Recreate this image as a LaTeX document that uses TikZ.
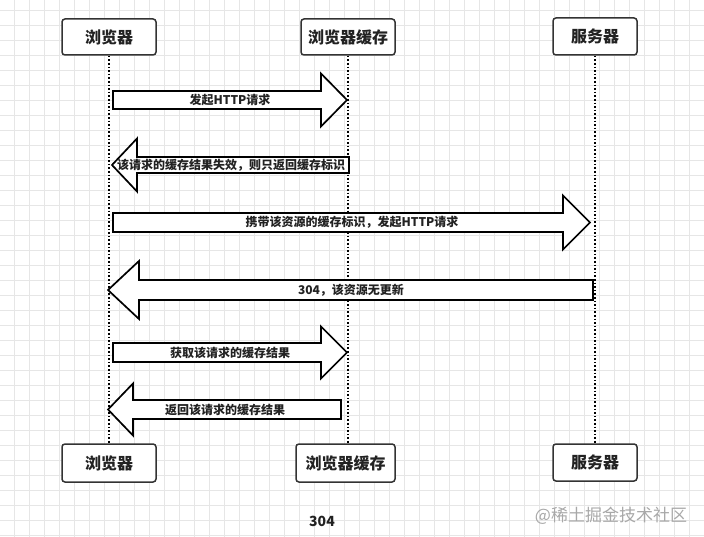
\documentclass[tikz,border=0pt]{standalone}
\usepackage{fontspec}
\setmainfont{Noto Sans CJK SC}
\definecolor{gridc}{HTML}{E6E6E6}
\definecolor{boxline}{HTML}{333333}
\definecolor{txt}{HTML}{222222}
\definecolor{wm}{HTML}{A8A8A8}
\tikzset{
  actor/.style={draw=boxline, line width=1.5pt, rounded corners=3pt, fill=white, font=\bfseries\fontsize{16}{18}\selectfont, text=txt, inner sep=0pt},
  lifeline/.style={dotted, line width=1.6pt, black},
  blockarrow/.style={draw=black, line width=1.7pt, fill=white, line join=miter},
  msg/.style={font=\bfseries\fontsize{12}{14}\selectfont, text=txt, inner sep=0pt},
}
% right-pointing block arrow: x-left, x-tip, y-centre, head length, body half, head half
\newcommand\blockR[6]{%
  \filldraw[blockarrow] (#1,#3-#5) -- (#2-#4,#3-#5) -- (#2-#4,#3-#6) -- (#2,#3) -- (#2-#4,#3+#6) -- (#2-#4,#3+#5) -- (#1,#3+#5) -- cycle;}
% left-pointing block arrow: x-tip, x-right, y-centre, head length, body half, head half
\newcommand\blockL[6]{%
  \filldraw[blockarrow] (#2,#3-#5) -- (#1+#4,#3-#5) -- (#1+#4,#3-#6) -- (#1,#3) -- (#1+#4,#3+#6) -- (#1+#4,#3+#5) -- (#2,#3+#5) -- cycle;}
\begin{document}
\begin{tikzpicture}[x=1pt, y=-1pt]
  \fill[white] (0,0) rectangle (704,537);
  \useasboundingbox (0,0) rectangle (704,537);
  % grid
  \foreach \k in {1,...,47} \draw[gridc, line width=0.8pt] (15*\k-1,0) -- (15*\k-1,537);
  \foreach \k in {0,...,35} \draw[gridc, line width=0.8pt] (0,15*\k+10) -- (704,15*\k+10);

  % actors
  \node[actor, minimum width=94pt, minimum height=36pt] (bt) at (109,37) {浏览器};
  \node[actor, minimum width=94pt, minimum height=36pt] (ct) at (348,37) {浏览器缓存};
  \node[actor, minimum width=84pt, minimum height=37pt] (st) at (595,36.5) {服务器};
  \node[actor, minimum width=94pt, minimum height=38pt] (bb) at (109,463) {浏览器};
  \node[actor, minimum width=99pt, minimum height=38pt] (cb) at (345.5,463) {浏览器缓存};
  \node[actor, minimum width=84pt, minimum height=37pt] (sb) at (595,462.5) {服务器};

  % lifelines
  \draw[lifeline] (bt.south) -- (bb.north);
  \draw[lifeline] (ct.south) -- (cb.north -| ct.south);
  \draw[lifeline] (st.south) -- (sb.north);

  % messages
  \blockR{113}{347}{100}{26}{9}{26.5}
  \node[msg] (m1) at (230,100) {发起HTTP请求};

  \blockL{112}{349}{165}{25}{8}{26.5}
  \node[msg] (m2) at (231,165) {该请求的缓存结果失效，则只返回缓存标识};

  \blockR{113}{590}{222.5}{27}{9.5}{27}
  \node[msg] (m3) at (352,222.5) {携带该资源的缓存标识，发起HTTP请求};

  \blockL{108}{593}{290}{31}{10}{29}
  \node[msg] (m4) at (351,290) {304，该资源无更新};

  \blockR{113}{347}{352.5}{26}{9.5}{26}
  \node[msg] (m5) at (230,352.5) {获取该请求的缓存结果};

  \blockL{108}{341}{409.5}{25}{9.5}{26}
  \node[msg] (m6) at (225,409.5) {返回该请求的缓存结果};

  % caption and watermark
  \node[font=\bfseries\fontsize{14}{16}\selectfont, text=txt, inner sep=0pt] (cap) at (322,521) {304};
  \node[font=\fontsize{17}{19}\selectfont, text=wm, inner sep=0pt] (wmk) at (611,516) {@稀土掘金技术社区};
\end{tikzpicture}
\end{document}
